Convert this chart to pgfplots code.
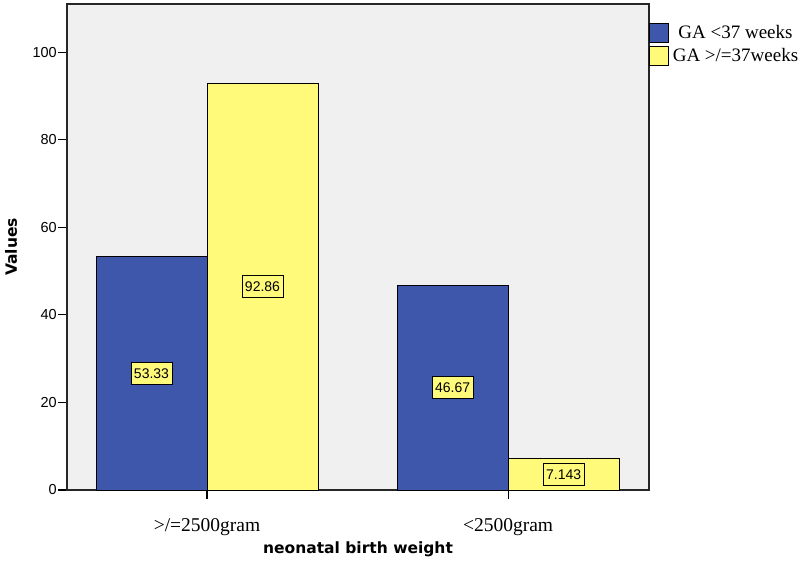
\documentclass[border=0pt]{standalone}
\usepackage{pgfplots}
\pgfplotsset{compat=1.18}
\usepackage{fontspec}
\setmainfont{Liberation Serif}
\newfontfamily\arialf{Liberation Sans}
\newfontfamily\labf{DejaVu Sans}
\definecolor{barblue}{RGB}{62,87,170}
\definecolor{baryellow}{RGB}{255,250,122}
\definecolor{bgray}{RGB}{240,240,240}
\begin{document}
\begin{tikzpicture}
\useasboundingbox (0,0) rectangle (810pt,564pt);
\begin{axis}[
  at={(67pt,74pt)}, anchor=south west,
  scale only axis, width=582pt, height=486pt,
  xmin=-0.465, xmax=1.468, ymin=0, ymax=111,
  ybar=0pt, bar width=111pt,
  axis background/.style={fill=bgray},
  axis line style={black!85, line width=1.3pt},
  xtick={0,1}, xticklabels={{>/=2500gram},{<2500gram}},
  ytick={0,20,40,60,80,100},
  tick align=outside, tick style={black, line width=1.2pt},
  major tick length=9pt,
  xtick pos=bottom, ytick pos=left,
  /pgf/number format/assume math mode=true,
  yticklabel style={font=\arialf\fontsize{14.5}{17}\selectfont, anchor=east, inner sep=0pt, xshift=-1pt},
  xticklabel style={font=\fontsize{19.5}{22}\selectfont, anchor=center, yshift=-28pt},
  ylabel={Values}, xlabel={neonatal birth weight},
  label style={font=\labf\bfseries\fontsize{15.5}{18}\selectfont},
  xlabel style={at={(axis description cs:0.5,-0.1214)}, anchor=center},
  ylabel style={at={(axis description cs:-0.0962,0.5)}, anchor=center},
  point meta=explicit symbolic,
  nodes near coords,
  visualization depends on=rawy \as \rawy,
  every node near coord/.append style={anchor=center,
     shift={(axis direction cs:0,-\rawy/2)},
     font=\arialf\fontsize{14}{16}\selectfont, fill=baryellow, draw=black,
     line width=0.8pt, inner xsep=3pt, inner ysep=0pt, minimum height=22pt, text=black},
  legend style={draw=none, fill=none, inner sep=0pt, outer sep=0pt,
     at={(rel axis cs:1,0.961)}, anchor=north west,
     font=\fontsize{19}{22}\selectfont, row sep=3pt, column sep=4pt,
     nodes={inner sep=0pt}},
  legend cell align=center,
  legend image code/.code={\draw[#1, draw=black, line width=0.8pt] (0pt,-9.5pt) rectangle (19pt,9.5pt);},
  clip=false,
]
\addplot[fill=barblue, draw=black, line width=0.8pt] coordinates {(0,53.33)[53.33] (1,46.67)[46.67]};
\addplot[fill=baryellow, draw=black, line width=0.8pt] coordinates {(0,92.86)[92.86] (1,7.143)[7.143]};
\legend{GA <37 weeks, GA >/=37weeks}
\end{axis}
\end{tikzpicture}
\end{document}
